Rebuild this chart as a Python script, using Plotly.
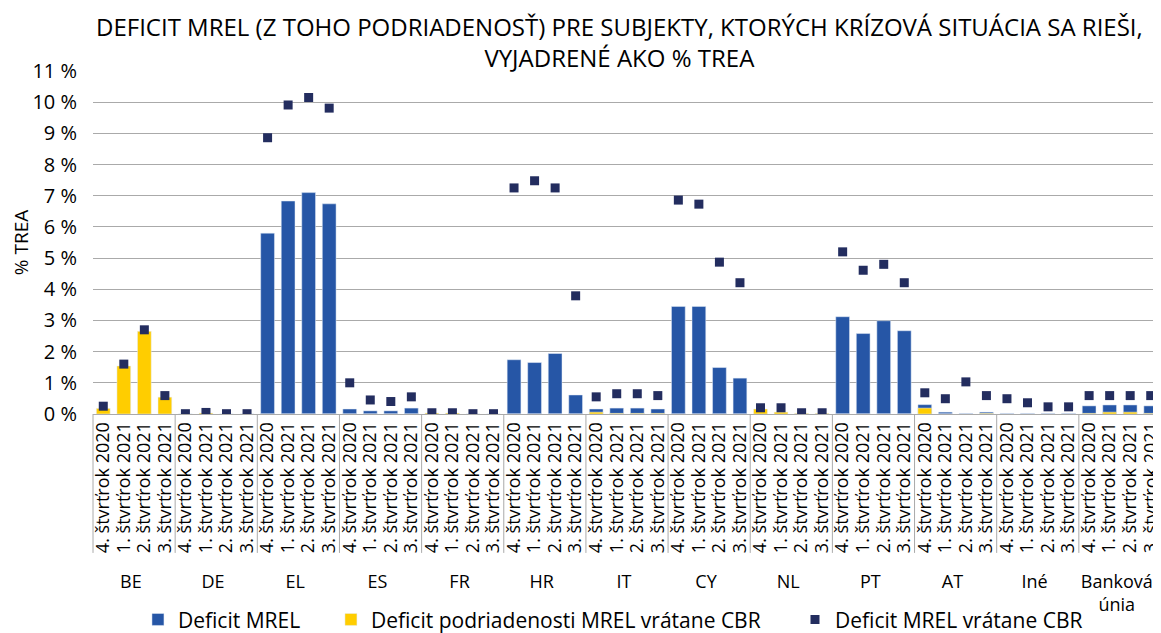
import plotly.graph_objects as go

countries = ["BE", "DE", "EL", "ES", "FR", "HR", "IT", "CY", "NL", "PT", "AT", "Iné", "Banková<br>únia"]
quarters = ["4. štvrťrok 2020", "1. štvrťrok 2021", "2. štvrťrok 2021", "3. štvrťrok 2021"]

# Deficit MREL (% TREA), per country, 4 quarters each
deficit_mrel = [
    [0.0, 0.0, 0.0, 0.0],      # BE
    [0.0, 0.0, 0.0, 0.0],      # DE
    [5.80, 6.83, 7.10, 6.74],  # EL
    [0.16, 0.10, 0.10, 0.19],  # ES
    [0.0, 0.0, 0.0, 0.0],      # FR
    [1.74, 1.65, 1.94, 0.61],  # HR
    [0.16, 0.19, 0.19, 0.16],  # IT
    [3.45, 3.45, 1.49, 1.15],  # CY
    [0.0, 0.0, 0.0, 0.0],      # NL
    [3.12, 2.58, 2.99, 2.67],  # PT
    [0.30, 0.06, 0.02, 0.06],  # AT
    [0.02, 0.02, 0.02, 0.02],  # Iné
    [0.26, 0.29, 0.29, 0.26],  # Banková únia
]
# Deficit podriadenosti MREL vrátane CBR
deficit_sub = [
    [0.18, 1.54, 2.65, 0.54],
    [0.0, 0.03, 0.0, 0.0],
    [0.0, 0.0, 0.0, 0.0],
    [0.0, 0.0, 0.0, 0.0],
    [0.03, 0.03, 0.0, 0.0],
    [0.0, 0.0, 0.0, 0.0],
    [0.06, 0.02, 0.02, 0.02],
    [0.0, 0.0, 0.0, 0.0],
    [0.16, 0.06, 0.02, 0.02],
    [0.0, 0.0, 0.0, 0.0],
    [0.19, 0.0, 0.0, 0.02],
    [0.0, 0.0, 0.0, 0.0],
    [0.02, 0.06, 0.06, 0.02],
]
# Deficit MREL vrátane CBR
deficit_cbr = [
    [0.25, 1.60, 2.70, 0.59],
    [0.01, 0.05, 0.01, 0.01],
    [8.86, 9.91, 10.15, 9.81],
    [1.00, 0.45, 0.40, 0.55],
    [0.04, 0.04, 0.01, 0.01],
    [7.25, 7.48, 7.25, 3.79],
    [0.55, 0.65, 0.65, 0.59],
    [6.86, 6.73, 4.87, 4.21],
    [0.20, 0.20, 0.04, 0.04],
    [5.20, 4.61, 4.80, 4.21],
    [0.68, 0.49, 1.03, 0.59],
    [0.49, 0.36, 0.23, 0.23],
    [0.59, 0.59, 0.59, 0.59],
]

title_text = ("DEFICIT MREL (Z TOHO PODRIADENOSŤ) PRE SUBJEKTY, KTORÝCH KRÍZOVÁ SITUÁCIA SA RIEŠI,"
              "<br>VYJADRENÉ AKO % TREA")
ytick_vals = list(range(0, 12))
ytick_text = [f"{v} %" for v in ytick_vals]

lvl0 = [c for c in countries for _ in quarters]
lvl1 = [q for _ in countries for q in quarters]
flat = lambda a: [v for row in a for v in row]
n_cat = len(lvl0)

BLUE = "rgb(38,86,166)"
YELLOW = "rgb(255,205,0)"
NAVY = "rgb(35,45,95)"
GRID = "rgb(170,170,170)"
FONT = "Open Sans"

fig = go.Figure()
fig.add_trace(go.Bar(x=[lvl0, lvl1], y=flat(deficit_mrel), name="Deficit MREL",
                     marker_color=BLUE, legend="legend"))
fig.add_trace(go.Bar(x=[lvl0, lvl1], y=flat(deficit_sub),
                     name="Deficit podriadenosti MREL vrátane CBR", marker_color=YELLOW,
                     legend="legend2"))
fig.add_trace(go.Scatter(x=[lvl0, lvl1], y=flat(deficit_cbr), mode="markers",
                         name="Deficit MREL vrátane CBR",
                         marker=dict(symbol="square", size=9, color=NAVY),
                         legend="legend3"))

leg_common = dict(orientation="h", xanchor="left", y=-0.600, yanchor="middle",
                  font=dict(family=FONT, size=21), itemwidth=30, bgcolor="rgba(0,0,0,0)")

# group divider lines in the tick-label area (axis decoration)
n_groups = len(countries)
dividers = [dict(type="line", xref="paper", yref="paper", x0=k / n_groups, x1=k / n_groups,
                 y0=0, y1=-0.405, line=dict(color=GRID, width=1))
            for k in range(n_groups + 1)]

fig.update_layout(
    width=1161, height=633,
    barmode="overlay", bargap=0.33,
    paper_bgcolor="white", plot_bgcolor="white",
    font=dict(family=FONT, size=19, color="black"),
    margin=dict(l=85, r=8, t=63, b=227, autoexpand=False),
    annotations=[
        dict(text=title_text, xref="paper", yref="paper", x=0.4934, y=1.086,
             xanchor="center", yanchor="middle", showarrow=False,
             font=dict(family=FONT, size=24, color="black")),
    ],
    shapes=dividers,
    legend=dict(x=0.0421, **leg_common),
    legend2=dict(x=0.2228, **leg_common),
    legend3=dict(x=0.6573, **leg_common),
    showlegend=True,
)
fig.update_yaxes(range=[0, 11], tickvals=ytick_vals, ticktext=ytick_text,
                 showgrid=True, gridcolor=GRID, gridwidth=1,
                 zeroline=False, showline=False, automargin=False,
                 ticklabelstandoff=15,
                 title=dict(text="% TREA", font=dict(family=FONT, size=19), standoff=10),
                 tickfont=dict(family=FONT, size=20))
fig.update_xaxes(type="multicategory", tickangle=-90, automargin=False,
                 range=[-0.5, n_cat - 0.5], nticks=80,
                 tickfont=dict(family=FONT, size=18),
                 showline=True, linecolor=GRID, linewidth=1,
                 showdividers=False,
                 ticks="", mirror=False)

fig.write_html("out.html")
